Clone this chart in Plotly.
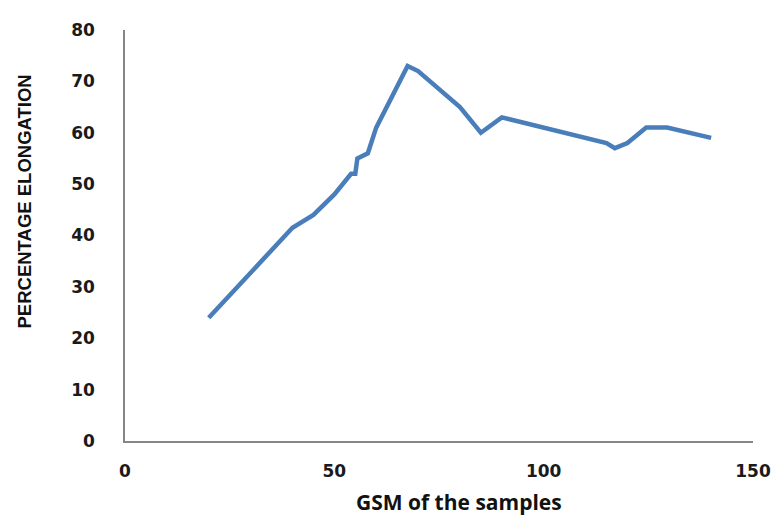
import plotly.graph_objects as go

gsm = [20, 40, 45, 50, 54, 55, 55.5, 58, 60, 67.5, 70, 80, 85, 90, 115, 117, 120, 124.5, 129.5, 140]
elongation = [24, 41.5, 44, 48, 52, 52, 55, 56, 61, 73, 72, 65, 60, 63, 58, 57, 58, 61, 61, 59]

x_ticks = [0, 50, 100, 150]
y_ticks = [0, 10, 20, 30, 40, 50, 60, 70, 80]

# page offset (browser body margin)
OFF = 8
W, H = 783 - OFF, 517 - OFF
PL, PR, PT, PB = 124.5, 759, 22, 441.5  # plot area in page pixels
L = PL - OFF
R = W - (PR - OFF)
T = PT - OFF
B = H - (PB - OFF)


def px(xp):
    return (xp - PL) / (PR - PL)


def py(yp):
    return (PB - yp) / (PB - PT)


fig = go.Figure()
fig.add_trace(go.Scatter(
    x=gsm, y=elongation, mode="lines",
    line=dict(color="#4A7EBB", width=4.5),
    showlegend=False, hoverinfo="skip"
))

fig.update_layout(
    width=W, height=H,
    margin=dict(l=L, r=R, t=T, b=B, pad=0),
    paper_bgcolor="white", plot_bgcolor="white",
    xaxis=dict(
        range=[0, 150], tickvals=x_ticks, showgrid=False, zeroline=False,
        showline=True, linecolor="#868686", linewidth=1.5, ticks="",
        tickfont=dict(family="DejaVu Sans", size=17, color="#1a1a1a", weight="bold"),
        ticklabelstandoff=14,
    ),
    yaxis=dict(
        range=[0, 80], tickvals=y_ticks, showgrid=False, zeroline=False,
        showline=True, linecolor="#868686", linewidth=1.5, ticks="",
        tickfont=dict(family="DejaVu Sans", size=17, color="#1a1a1a", weight="bold"),
        ticklabelstandoff=25,
    ),
    annotations=[
        dict(text="<b>GSM of the samples</b>", xref="paper", yref="paper",
             x=px(462), y=py(520),
             xanchor="center", yanchor="bottom", showarrow=False,
             font=dict(family="Open Sans", size=21, color="#111")),
        dict(text="<b>PERCENTAGE ELONGATION</b>", xref="paper", yref="paper",
             x=px(22.5), y=py(197),
             xanchor="center", yanchor="middle", showarrow=False, textangle=-90,
             font=dict(family="Liberation Sans", size=18.5, color="#111")),
    ],
)

fig.write_html("out.html")
